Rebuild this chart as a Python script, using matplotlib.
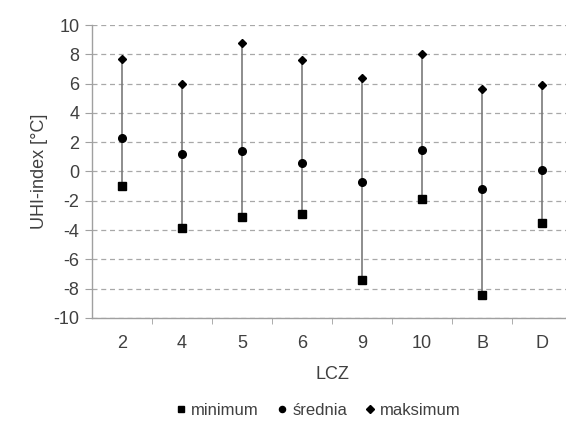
import matplotlib.pyplot as plt
import numpy as np

plt.rcParams['font.family'] = ['Liberation Sans', 'DejaVu Sans']
plt.rcParams['axes.unicode_minus'] = False

lcz = ['2', '4', '5', '6', '9', '10', 'B', 'D']
minimum = [-1.0, -3.85, -3.1, -2.9, -7.4, -1.9, -8.4, -3.55]
srednia = [2.3, 1.2, 1.4, 0.55, -0.75, 1.45, -1.2, 0.1]
maksimum = [7.7, 5.95, 8.8, 7.6, 6.4, 8.0, 5.6, 5.9]

text_col = '#404040'
x = np.arange(len(lcz))

fig = plt.figure(figsize=(5.66, 4.21), dpi=100)
ax = fig.add_axes([0.1625, 0.2447, 0.8485, 0.6959])

ax.vlines(x, minimum, maksimum, color='#7a7a7a', lw=1.2, zorder=2)
ax.plot(x, minimum, 's', color='black', ms=5.5, ls='none', label='minimum', zorder=3)
ax.plot(x, srednia, 'o', color='black', ms=5.5, ls='none', label='średnia', zorder=3)
ax.plot(x, maksimum, 'D', color='black', ms=4.5, ls='none', label='maksimum', zorder=3)

ax.set_xlim(-0.5, len(lcz) - 0.5)
ax.set_ylim(-10, 10)
ax.set_yticks(np.arange(-10, 11, 2))
ax.set_xticks(x)
ax.set_xticklabels(lcz)
ax.set_xticks(np.arange(0.5, len(lcz) - 0.5, 1), minor=True)
ax.tick_params(axis='x', which='major', length=0, pad=12, labelsize=13, labelcolor=text_col)
ax.tick_params(axis='x', which='minor', length=4, color='#a0a0a0', direction='out')
ax.tick_params(axis='y', length=5, color='#a0a0a0', labelsize=13, labelcolor=text_col, pad=4)

ax.yaxis.grid(True, ls=(0, (4, 3)), color='#a8a8a8', lw=0.9)
ax.set_axisbelow(True)
for s in ['top', 'right']:
    ax.spines[s].set_visible(False)
for s in ['left', 'bottom']:
    ax.spines[s].set_color('#a0a0a0')
    ax.spines[s].set_linewidth(1.0)

ax.set_xlabel('LCZ', fontsize=13, color=text_col, labelpad=10)
ax.set_ylabel('UHI-index [°C]', fontsize=13, color=text_col, labelpad=4)

fig.legend(loc='center', bbox_to_anchor=(0.56, 0.025), ncol=3, frameon=False,
           fontsize=12, handletextpad=0.1, columnspacing=0.9, markerscale=0.8,
           labelcolor=text_col, handlelength=1.0)

fig.savefig('out.png', dpi=100)
